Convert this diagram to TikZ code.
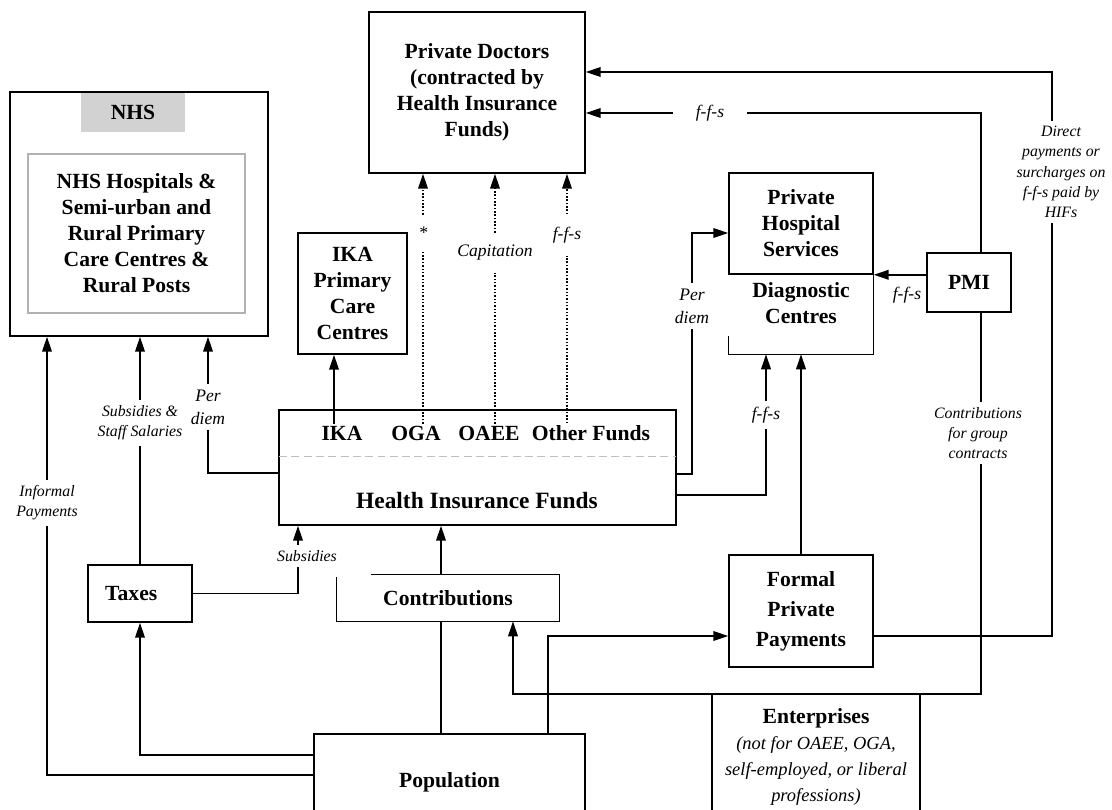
\documentclass[tikz,border=0pt]{standalone}
\usepackage{fontspec}
\setmainfont{Liberation Serif}
\usetikzlibrary{arrows.meta}
\newcommand{\entit}[1]{{\mdseries\itshape\fontsize{10.5}{12}\selectfont #1}}

\begin{document}
\begin{tikzpicture}[x=0.02cm, y=-0.02cm,
  box/.style={rectangle, draw, line width=0.9pt, align=center, inner sep=1pt,
              font=\bfseries\fontsize{12.3}{14.8}\selectfont},
  tag/.style={rectangle, fill=gray!35, inner sep=0pt,
              font=\bfseries\fontsize{12.3}{14.8}\selectfont},
  inbox/.style={box, draw=gray!60},
  txt/.style={align=center, inner sep=1pt, font=\bfseries\fontsize{12.3}{14.8}\selectfont},
  lab/.style={align=center, inner sep=3pt, font=\itshape\fontsize{10}{13}\selectfont},
  slab/.style={lab, font=\itshape\fontsize{9}{11.5}\selectfont},
  dlab/.style={lab, inner ysep=7pt},
  ln/.style={line width=0.9pt},
  arr/.style={ln, -{Triangle[length=8.5pt,width=5.5pt]}},
  dt/.style={line width=0.9pt, densely dotted},
  dtarr/.style={dt, -{Triangle[length=8.5pt,width=5.5pt]}}]

\useasboundingbox (0,0) rectangle (1112,809);
\clip (0,0) rectangle (1112,809);

%% NHS
\node[box, minimum width=5.16cm, minimum height=4.88cm] (nhs) at (139,214) {};
\node[tag, minimum width=2.08cm, minimum height=0.78cm] (nhstag) at (133,112.5) {NHS};
\node[inbox, minimum width=4.34cm, minimum height=3.18cm] (nhsin) at (136.5,233.5)
  {NHS Hospitals \&\\Semi-urban and\\Rural Primary\\Care Centres \&\\Rural Posts};

%% providers
\node[box, minimum width=4.32cm, minimum height=3.22cm] (doc) at (477,92.5)
  {Private Doctors\\(contracted by\\Health Insurance\\Funds)};
\node[box, minimum width=2.18cm, minimum height=2.42cm] (ikapc) at (352.5,293.5)
  {IKA\\Primary\\Care\\Centres};
\node[box, minimum width=2.88cm, minimum height=2.02cm] (phs) at (801,223.5)
  {Private\\Hospital\\Services};
\node[txt, minimum width=2.88cm, minimum height=1.6cm] (diag) at (801,314) {};
\node[txt] (diagtxt) at (801,303) {Diagnostic\\Centres};
\draw[ln] ([yshift=0.36cm]diag.south west) -- (diag.south west) -- (diag.south east) -- (diag.north east);
\node[box, minimum width=1.68cm, minimum height=1.18cm] (pmi) at (969,282.5) {PMI};

%% Health Insurance Funds
\node[box, minimum width=7.94cm, minimum height=2.3cm] (hif) at (477.5,467.5) {};
\draw[gray!50, line width=0.8pt, dash pattern=on 4.5pt off 2.5pt]
  ([xshift=0.5pt,yshift=-0.94cm]hif.north west) -- ([xshift=-0.5pt,yshift=-0.94cm]hif.north east);
\node[txt] (ika)  at (342,433) {IKA};
\node[txt] (oga)  at (416,433) {OGA};
\node[txt] (oaee) at (489,433) {OAEE};
\node[txt] (oth)  at (591,433) {Other Funds};
\node[txt, font=\bfseries\fontsize{13.3}{16}\selectfont] (hiftxt) at (477,501) {Health Insurance Funds};

%% sources
\node[box, minimum width=2.08cm, minimum height=1.14cm] (taxes) at (140,593.5) {Taxes\hspace*{0.35cm}};
\node[txt, minimum width=4.44cm, minimum height=0.92cm] (contrib) at (448,598) {Contributions};
\draw[ln] ([xshift=0.68cm]contrib.north west) -- (contrib.north east) -- (contrib.south east)
  -- (contrib.south west) -- ([yshift=-0.04cm]contrib.north west);
\node[box, minimum width=2.88cm, minimum height=2.24cm,
      font=\bfseries\fontsize{12.3}{17}\selectfont] (fpp) at (801,611) {Formal\\Private\\Payments};
\node[box, minimum width=4.16cm, minimum height=2.5cm] (ent) at (816,757)
  {Enterprises\\\entit{(not for OAEE, OGA,}\\\entit{self-employed, or liberal}\\\entit{professions)}};
\node[box, minimum width=5.42cm, minimum height=1.92cm] (pop) at (449.5,782) {Population};

%% x and y of the connector runs
\coordinate (colx) at (441,0);
\coordinate (ppx)  at (548,0);
\coordinate (ctx)  at (513,0);
\coordinate (gcx)  at (981,0);
\coordinate (dpx)  at (1052,0);
\coordinate (ikx)  at (334,0);
\coordinate (sbx)  at (298,0);
\coordinate (fpy)  at (0,636);

%% labels
\node[slab] (infl) at (47,503)  {Informal\\Payments};
\node[slab] (sss)  at (140,423) {Subsidies \&\\Staff Salaries};
\node[lab]  (pdl)  at (208,407) {Per\\diem};
\node[slab] (subs) at (307,556) {Subsidies};
\node[dlab] (star) at (423,233) {*};
\node[dlab] (cap)  at (495,253) {Capitation};
\node[dlab] (ffs4) at (567,235) {f-f-s};
\node[lab, inner xsep=13pt] (ffs1) at (710,113) {f-f-s};
\node[slab] (dp)   at (1061,172) {Direct\\payments or\\surcharges on\\f-f-s paid by\\HIFs};
\node[lab]  (pdr)  at (692,306) {Per\\diem};
\node[lab]  (ffs2) at (907,295) {f-f-s};
\node[lab]  (ffs3) at (766,415) {f-f-s};
\node[slab] (gcl)  at (978,433) {Contributions\\for group\\contracts};

%% flows into the NHS
\draw[ln]  ([yshift=0.14cm]pop.west) -| (infl.south);
\draw[arr] (infl.north) -- (infl.north |- nhs.south);
\draw[arr] ([yshift=0.54cm]pop.west) -| (taxes.south);
\draw[ln]  (taxes.north) -- (taxes.north |- sss.south);
\draw[arr] (sss.north -| taxes.north) -- (taxes.north |- nhs.south);
\draw[ln]  ([yshift=-0.11cm]hif.west) -| (pdl.south);
\draw[arr] (pdl.north) -- (pdl.north |- nhs.south);

%% flows into the funds
\draw[ln]  (taxes.east) -| (subs.south -| sbx);
\draw[arr] (subs.north -| sbx) -- (hif.south -| sbx);
\draw[ln]  (pop.north -| colx) -- (contrib.south -| colx);
\draw[arr] (contrib.north -| colx) -- (hif.south -| colx);

%% funds to providers
\draw[arr] (ika.north -| ikx) -- (ikapc.south -| ikx);
\draw[dt]    (oga.north -| star.south) -- (star.south);
\draw[dtarr] (star.north) -- (doc.south -| star.north);
\draw[dt]    (oaee.north -| cap.south) -- (cap.south);
\draw[dtarr] (cap.north) -- (doc.south -| cap.north);
\draw[dt]    (oth.north -| ffs4.south) -- (ffs4.south);
\draw[dtarr] (ffs4.north) -- (doc.south -| ffs4.north);
\draw[ln]  ([yshift=-0.13cm]hif.east) -| (pdr.south);
\draw[arr] (pdr.north) |- ([yshift=-0.19cm]phs.west);
\draw[ln]  ([yshift=-0.55cm]hif.east) -| (ffs3.south);
\draw[arr] (ffs3.north) -- (ffs3.north |- diag.south);

%% private money
\draw[arr] (pop.north -| ppx) |- (fpp.west |- fpy);
\draw[arr] (fpp.north) -- (fpp.north |- diag.south);
\draw[ln]  (fpp.east |- fpy) -| (dp.south -| dpx);
\draw[arr] (dp.north -| dpx) |- ([yshift=0.41cm]doc.east);
\draw[arr] (pmi.west |- phs.south) -- (phs.south east);
\draw[ln]  (pmi.north -| gcx) |- (ffs1.east);
\draw[arr] (ffs1.west) -- (doc.east |- ffs1.west);
\draw[ln]  (pmi.south -| gcx) -- (gcl.north -| gcx);
\draw[arr] (gcl.south -| gcx) |- (ent.north -| ctx) -- (contrib.south -| ctx);
\end{tikzpicture}
\end{document}
